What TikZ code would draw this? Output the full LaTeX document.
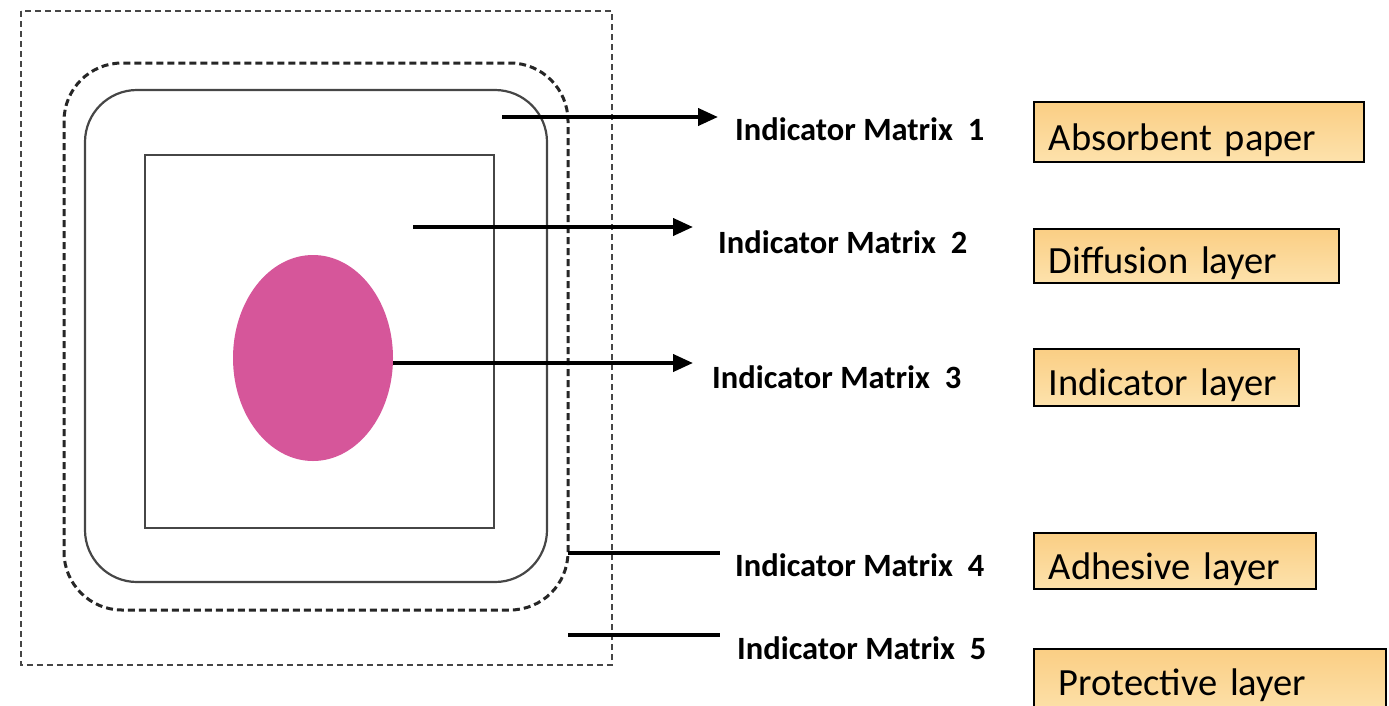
\documentclass[tikz,border=0pt]{standalone}
\usepackage{fontspec}
\setmainfont{Carlito}
\usetikzlibrary{arrows.meta,shapes.geometric}
\definecolor{pinkfill}{RGB}{214,86,154}
\definecolor{boxtop}{RGB}{250,206,132}
\definecolor{boxbot}{RGB}{253,226,172}
\definecolor{linegray}{RGB}{70,70,70}
\begin{document}
\begin{tikzpicture}[x=1pt,y=-1pt,
  lab/.style={anchor=base west, inner sep=0pt, font=\fontsize{32.5}{38}\selectfont\bfseries},
  layerbox/.style={draw=black, line width=1.5pt, top color=boxtop, bottom color=boxbot,
    anchor=north west, inner ysep=0pt, inner xsep=15pt, align=left,
    font=\fontsize{38.5}{44}\selectfont},
  ptr/.style={line width=4pt, -{Triangle[length=20pt,width=17pt]}},
  tickline/.style={line width=4pt},
  outerdash/.style={draw=linegray, line width=1.8pt, dash pattern=on 6pt off 4pt},
  innerdash/.style={draw=black!85, line width=3pt, dash pattern=on 7pt off 4pt},
  solidframe/.style={draw=linegray, line width=2.2pt}]
\useasboundingbox (0,0) rectangle (1389,705);
\clip (0,0) rectangle (1389,705);

% layered sensor drawing
\draw[outerdash] (21,11) rectangle (612,665);
\draw[innerdash, rounded corners=58pt] (64,63) rectangle (568,610);
\draw[solidframe, rounded corners=52pt] (85,90) rectangle (547,582);
\draw[solidframe] (145,155) rectangle (494,528);
\node[ellipse, fill=pinkfill, minimum width=160pt, minimum height=206pt, inner sep=0pt] (ell) at (313,358) {};

% labels
\node[lab] (lab1) at (735,140) {Indicator Matrix\ \ 1};
\node[lab] (lab2) at (718,253) {Indicator Matrix\ \ 2};
\node[lab] (lab3) at (712,388) {Indicator Matrix\ \ 3};
\node[lab] (lab4) at (735,576) {Indicator Matrix\ \ 4};
\node[lab] (lab5) at (737,659) {Indicator Matrix\ \ 5};

% connectors
\coordinate (s1) at (502,117);
\coordinate (s2) at (413,227);
\coordinate (s4) at (568,553);
\coordinate (s5) at (568,635);
\draw[ptr, shorten >=17pt] (s1) -- (s1 -| lab1.west);
\draw[ptr, shorten >=25pt] (s2) -- (s2 -| lab2.west);
\draw[ptr, shorten >=19pt] ([yshift=-5pt]ell.east) -- ([yshift=-5pt]ell.east -| lab3.west);
\draw[tickline, shorten >=15pt] (s4) -- (s4 -| lab4.west);
\draw[tickline, shorten >=17pt] (s5) -- (s5 -| lab5.west);

% layer names
\node[layerbox, text width=300pt, text height=49pt, text depth=11pt] (b1) at (1033,101) {Absorbent paper};
\node[layerbox, text width=275pt, text height=45pt, text depth=9pt] (b2) at (1033,228) {Diffusion layer};
\node[layerbox, text width=235pt, text height=47pt, text depth=10pt] (b3) at (1033,348) {Indicator layer};
\node[layerbox, text width=252pt, text height=47pt, text depth=9pt] (b4) at (1033,532) {Adhesive layer};
\node[layerbox, inner xsep=25pt, text width=302pt, text height=47pt, text depth=20pt] (b5) at (1033,648) {Protective layer};
\end{tikzpicture}
\end{document}
